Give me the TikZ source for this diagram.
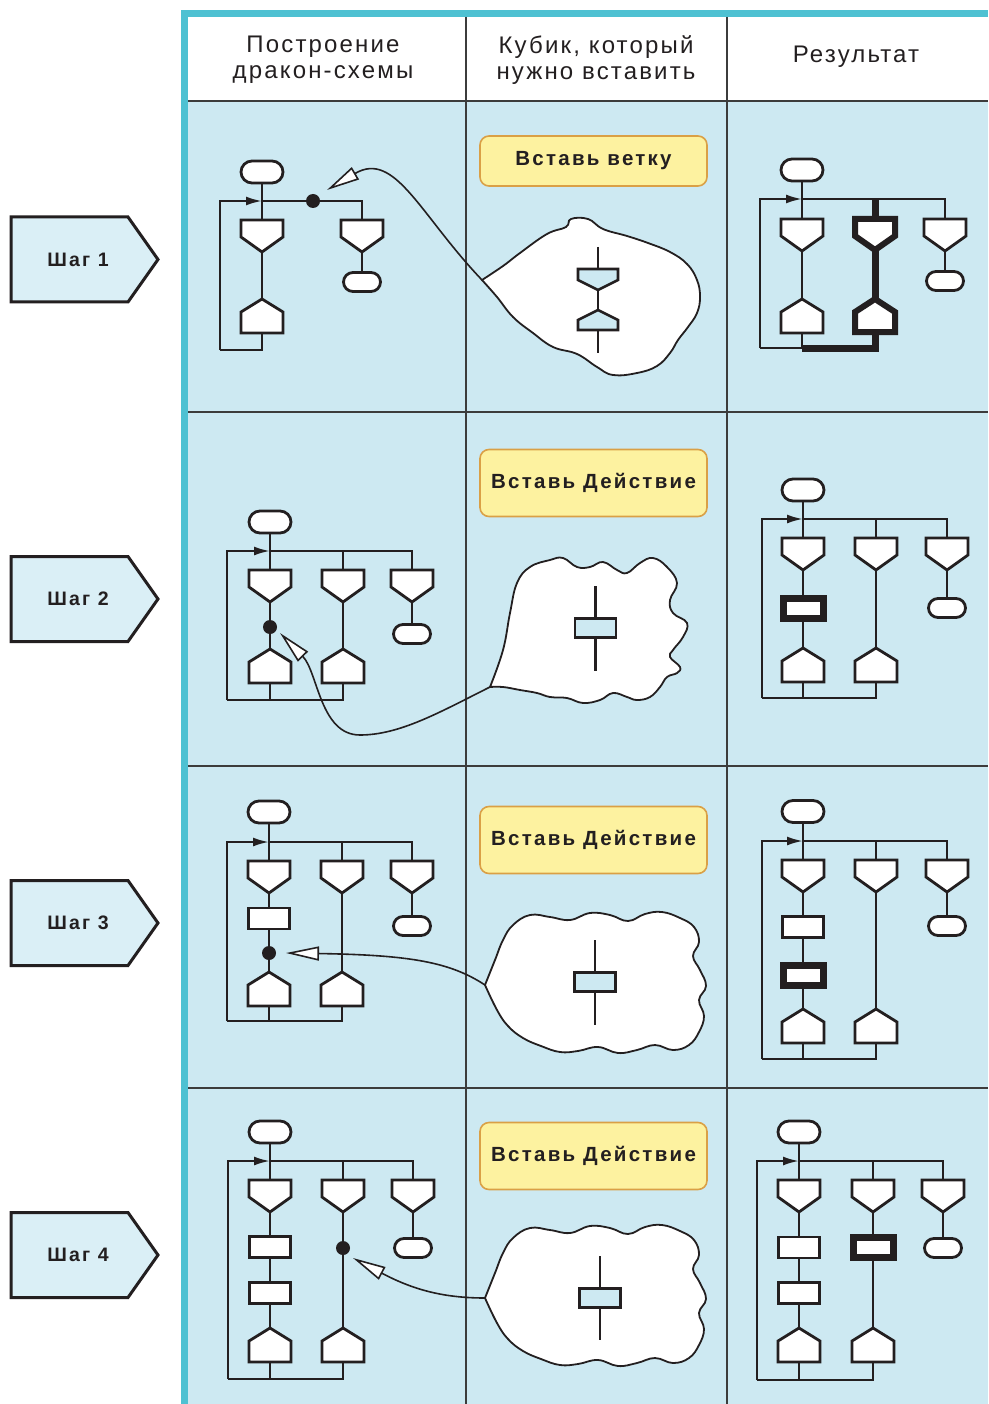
\documentclass[tikz,border=0pt]{standalone}
\usepackage{fontspec}
\setmainfont{Liberation Sans}
\newfontfamily\hdrfont{Liberation Sans}[LetterSpace=9]
\newfontfamily\lblfont{Liberation Sans}[LetterSpace=11]
\usetikzlibrary{arrows.meta,shapes.misc}
\definecolor{panel}{RGB}{205,233,242}
\definecolor{tealb}{RGB}{78,193,210}
\definecolor{stepfill}{RGB}{218,239,246}
\definecolor{yell}{RGB}{253,242,160}
\definecolor{orangeb}{RGB}{218,160,70}
\definecolor{ink}{RGB}{35,31,32}
\definecolor{gridc}{RGB}{60,60,60}
\tikzset{
 shp/.style={draw=ink, fill=white, line width=2.8pt, line join=miter},
 shpi/.style={draw=ink, fill=panel, line width=2.6pt, line join=miter},
 conn/.style={draw=ink, line width=2.2pt},
 connB/.style={draw=ink, line width=7pt},
 looparrow/.style={conn, -{Latex[length=16pt,width=9pt]}},
 term/.style={shp, rounded rectangle, minimum width=42pt, minimum height=22pt, inner sep=0pt},
 termS/.style={term, minimum width=37pt, minimum height=19pt},
 act/.style={shp, rectangle, minimum width=41pt, minimum height=21pt, inner sep=0pt},
 actB/.style={act, line width=7pt, minimum width=40pt, minimum height=20pt},
 acti/.style={shpi, rectangle, minimum width=41pt, minimum height=19pt, inner sep=0pt},
 dot/.style={circle, fill=ink, minimum size=14pt, inner sep=0pt},
 gridline/.style={draw=gridc, line width=1.6pt},
 hdr/.style={font=\hdrfont\fontsize{24}{26}\selectfont, align=center, text=ink, inner sep=0pt},
 lbl/.style={draw=orangeb, fill=yell, line width=1.6pt, rounded corners=9pt, minimum width=227pt, text=ink, font=\lblfont\bfseries\fontsize{20.5}{24}\selectfont},
 stepshp/.style={draw=ink, fill=stepfill, line width=3pt, line join=miter},
 steptxt/.style={text=ink, font=\lblfont\bfseries\fontsize{19.5}{22}\selectfont, inner sep=0pt},
 blob/.style={draw=ink, fill=white, line width=1.8pt},
 tail/.style={draw=ink, line width=1.6pt, -{Triangle[length=33pt,width=14pt,fill=white]}},
 pics/qhead/.style={code={\draw[shp] (-21,0) -- (21,0) -- (21,17) -- (0,32) -- (-21,17) -- cycle; \coordinate (-n) at (0,0); \coordinate (-s) at (0,32);}},
 pics/qheadB/.style={code={\draw[shp, line width=6pt] (-20,0) -- (20,0) -- (20,17) -- (0,31) -- (-20,17) -- cycle; \coordinate (-n) at (0,0); \coordinate (-s) at (0,31);}},
 pics/ehead/.style={code={\draw[shp] (0,0) -- (21,13) -- (21,34) -- (-21,34) -- (-21,13) -- cycle; \coordinate (-n) at (0,0); \coordinate (-s) at (0,34);}},
 pics/eheadB/.style={code={\draw[shp, line width=6pt] (0,0) -- (20,13) -- (20,33) -- (-20,33) -- (-20,13) -- cycle; \coordinate (-n) at (0,0); \coordinate (-s) at (0,33);}},
 pics/qmini/.style={code={\draw[shpi] (-20,0) -- (20,0) -- (20,11) -- (0,21) -- (-20,11) -- cycle; \coordinate (-n) at (0,0); \coordinate (-s) at (0,21);}},
 pics/emini/.style={code={\draw[shpi] (0,0) -- (20,10) -- (20,20) -- (-20,20) -- (-20,10) -- cycle; \coordinate (-n) at (0,0); \coordinate (-s) at (0,20);}},
 pics/stepbox/.style={code={\draw[stepshp] (0,0) -- (117,0) -- (147,42.5) -- (117,85) -- (0,85) -- cycle; \node[steptxt] (-t) at (67,42.5) {#1};}},
}
\begin{document}
\begin{tikzpicture}[x=1pt,y=-1pt]
\useasboundingbox (0,0) rectangle (988,1404);
% backgrounds
\fill[white] (0,0) rectangle (988,1404);
\fill[panel] (187,101) rectangle (988,1404);
\fill[tealb] (181,10) rectangle (988,17);
\fill[tealb] (181,10) rectangle (188,1404);
% grid
\draw[gridline] (188,101) -- (988,101);
\draw[gridline] (188,412) -- (988,412);
\draw[gridline] (188,766) -- (988,766);
\draw[gridline] (188,1088) -- (988,1088);
\draw[gridline] (466,17) -- (466,1404);
\draw[gridline] (727,17) -- (727,1404);
% headers
\node[hdr] (hA) at (323,60) {Построение\\дракон-схемы};
\node[hdr] (hB) at (596,60) {Кубик, который\\нужно вставить};
\node[hdr] (hC) at (856,57) {Результат};
% step boxes
\pic (s1) at (11,217) {stepbox={Шаг 1}};
\pic (s2) at (11,556.5) {stepbox={Шаг 2}};
\pic (s3) at (11,880.5) {stepbox={Шаг 3}};
\pic (s4) at (11,1212.5) {stepbox={Шаг 4}};
% labels
\node[lbl, minimum height=50pt] (k1) at (593.5,161) {Вставь ветку};
\node[lbl, minimum height=67pt] (k2) at (593.5,483) {Вставь Действие};
\node[lbl, minimum height=67pt] (k3) at (593.5,840) {Вставь Действие};
\node[lbl, minimum height=67pt] (k4) at (593.5,1156) {Вставь Действие};

% ===== Step 1 left
\node[term] (t11) at (262,172) {};
\pic (q11) at (262,220) {qhead};
\pic (e11) at (262,299) {ehead};
\pic (q12) at (362,220) {qhead};
\node[termS] (t12) at (362,282) {};
\coordinate (h1) at (262,201);
\coordinate (l1) at (220,350);
\draw[conn] (t11) -- (q11-n);
\draw[conn] (q11-s) -- (e11-n);
\draw[conn] (e11-s) |- (l1);
\draw[looparrow] (l1) |- (h1);
\draw[conn] (h1) -| (q12-n);
\draw[conn] (q12-s) -- (t12);
\node[dot] (d1) at (313,201) {};

% ===== Step 1 right
\node[term] (t21) at (802,170) {};
\pic (q21) at (802,219) {qhead};
\pic (e21) at (802,299) {ehead};
\pic (q22) at (875,219) {qheadB};
\pic (e22) at (875,299) {eheadB};
\pic (q23) at (945,219) {qhead};
\node[termS] (t23) at (945,281) {};
\coordinate (h2) at (802,199);
\coordinate (l2) at (760,348);
\draw[conn] (t21) -- (q21-n);
\draw[conn] (q21-s) -- (e21-n);
\draw[conn] (e21-s) |- (l2);
\draw[looparrow] (l2) |- (h2);
\draw[conn] (h2) -| (q23-n);
\draw[connB] (q22-n |- h2) -- (q22-n);
\draw[connB] (q22-s) -- (e22-n);
\draw[connB, line join=miter] (e22-s) |- (e21-s |- l2);
\draw[conn] (q23-s) -- (t23);

% ===== Step 2 left
\node[term] (t31) at (270,522) {};
\coordinate (h3) at (270,551);
\pic (q31) at (270,570) {qhead};
\node[dot] (d3) at (270,627) {};
\pic (e31) at (270,649) {ehead};
\pic (q32) at (343,570) {qhead};
\pic (e32) at (343,649) {ehead};
\pic (q33) at (412,570) {qhead};
\node[termS] (t33) at (412,634) {};
\coordinate (l3) at (227,700);
\draw[conn] (t31) -- (q31-n);
\draw[conn] (q31-s) -- (d3) -- (e31-n);
\draw[conn] (e31-s) -- (e31-s |- l3);
\draw[conn] (e32-s) |- (l3);
\draw[looparrow] (l3) |- (h3);
\draw[conn] (h3) -| (q32-n);
\draw[conn] (h3) -| (q33-n);
\draw[conn] (q32-s) -- (e32-n);
\draw[conn] (q33-s) -- (t33);

% ===== Step 2 right
\node[term] (t41) at (803,490) {};
\coordinate (h4) at (803,519);
\pic (q41) at (803,538) {qhead};
\node[actB] (a41) at (803,608) {};
\pic (e41) at (803,648) {ehead};
\pic (q42) at (876,538) {qhead};
\pic (e42) at (876,648) {ehead};
\pic (q43) at (947,538) {qhead};
\node[termS] (t43) at (947,608) {};
\coordinate (l4) at (762,698);
\draw[conn] (t41) -- (q41-n);
\draw[conn] (q41-s) -- (a41) -- (e41-n);
\draw[conn] (e41-s) -- (e41-s |- l4);
\draw[conn] (e42-s) |- (l4);
\draw[looparrow] (l4) |- (h4);
\draw[conn] (h4) -| (q42-n);
\draw[conn] (h4) -| (q43-n);
\draw[conn] (q42-s) -- (e42-n);
\draw[conn] (q43-s) -- (t43);

% ===== Step 3 left
\node[term] (t51) at (269,812) {};
\coordinate (h5) at (269,842);
\pic (q51) at (269,861) {qhead};
\node[act] (a51) at (269,918.5) {};
\node[dot] (d5) at (269,953) {};
\pic (e51) at (269,972) {ehead};
\pic (q52) at (342,861) {qhead};
\pic (e52) at (342,972) {ehead};
\pic (q53) at (412,861) {qhead};
\node[termS] (t53) at (412,926) {};
\coordinate (l5) at (227,1021);
\draw[conn] (t51) -- (q51-n);
\draw[conn] (q51-s) -- (a51) -- (d5) -- (e51-n);
\draw[conn] (e51-s) -- (e51-s |- l5);
\draw[conn] (e52-s) |- (l5);
\draw[looparrow] (l5) |- (h5);
\draw[conn] (h5) -| (q52-n);
\draw[conn] (h5) -| (q53-n);
\draw[conn] (q52-s) -- (e52-n);
\draw[conn] (q53-s) -- (t53);

% ===== Step 3 right
\node[term] (t61) at (803,811.5) {};
\coordinate (h6) at (803,841);
\pic (q61) at (803,860) {qhead};
\node[act] (a61) at (803,927) {};
\node[actB] (a62) at (803,975) {};
\pic (e61) at (803,1009) {ehead};
\pic (q62) at (876,860) {qhead};
\pic (e62) at (876,1009) {ehead};
\pic (q63) at (947,860) {qhead};
\node[termS] (t63) at (947,926) {};
\coordinate (l6) at (762,1059);
\draw[conn] (t61) -- (q61-n);
\draw[conn] (q61-s) -- (a61) -- (a62) -- (e61-n);
\draw[conn] (e61-s) -- (e61-s |- l6);
\draw[conn] (e62-s) |- (l6);
\draw[looparrow] (l6) |- (h6);
\draw[conn] (h6) -| (q62-n);
\draw[conn] (h6) -| (q63-n);
\draw[conn] (q62-s) -- (e62-n);
\draw[conn] (q63-s) -- (t63);

% ===== Step 4 left
\node[term] (t71) at (270,1132) {};
\coordinate (h7) at (270,1161);
\pic (q71) at (270,1180) {qhead};
\node[act] (a71) at (270,1247) {};
\node[act] (a72) at (270,1293) {};
\pic (e71) at (270,1328) {ehead};
\pic (q72) at (343,1180) {qhead};
\node[dot] (d7) at (343,1248) {};
\pic (e72) at (343,1328) {ehead};
\pic (q73) at (413,1180) {qhead};
\node[termS] (t73) at (413,1248) {};
\coordinate (l7) at (228,1379);
\draw[conn] (t71) -- (q71-n);
\draw[conn] (q71-s) -- (a71) -- (a72) -- (e71-n);
\draw[conn] (e71-s) -- (e71-s |- l7);
\draw[conn] (e72-s) |- (l7);
\draw[looparrow] (l7) |- (h7);
\draw[conn] (h7) -| (q72-n);
\draw[conn] (h7) -| (q73-n);
\draw[conn] (q72-s) -- (d7) -- (e72-n);
\draw[conn] (q73-s) -- (t73);

% ===== Step 4 right
\node[term] (t81) at (799,1132) {};
\coordinate (h8) at (799,1161);
\pic (q81) at (799,1180) {qhead};
\node[act] (a81) at (799,1247.5) {};
\node[act] (a82) at (799,1293) {};
\pic (e81) at (799,1328) {ehead};
\pic (q82) at (873,1180) {qhead};
\node[actB] (a83) at (873,1247.5) {};
\pic (e82) at (873,1328) {ehead};
\pic (q83) at (943,1180) {qhead};
\node[termS] (t83) at (943,1248) {};
\coordinate (l8) at (757,1380);
\draw[conn] (t81) -- (q81-n);
\draw[conn] (q81-s) -- (a81) -- (a82) -- (e81-n);
\draw[conn] (e81-s) -- (e81-s |- l8);
\draw[conn] (e82-s) |- (l8);
\draw[looparrow] (l8) |- (h8);
\draw[conn] (h8) -| (q82-n);
\draw[conn] (h8) -| (q83-n);
\draw[conn] (q82-s) -- (a83) -- (e82-n);
\draw[conn] (q83-s) -- (t83);

% ===== Blobs
\coordinate (b1) at (482,280);
\draw[blob] plot[smooth, tension=0.7] coordinates {(482,280) (503,266) (520,253) (547,234) (566,227) (571,219) (588,219) (603,229) (627,236) (648,243) (670,252) (687,264) (697,280) (700,297) (697,313) (688,327) (678,340) (670,353) (657,366) (637,373) (613,375) (597,367) (577,354) (553,347) (533,333) (513,317) (497,297) (482,280)} -- cycle;
\coordinate (m1a) at (598,247);
\coordinate (m1b) at (598,353);
\pic (m1q) at (598,269) {qmini};
\pic (m1e) at (598,310) {emini};
\draw[conn] (m1a) -- (m1q-n);
\draw[conn] (m1q-s) -- (m1e-n);
\draw[conn] (m1e-s) -- (m1b);

\coordinate (b2) at (490,687);
\draw[blob] plot[smooth, tension=0.7] coordinates {(490,687) (503,650) (510,613) (517,583) (530,567) (550,560) (563,558) (577,567) (590,567) (603,562) (617,570) (627,573) (640,563) (653,558) (667,567) (677,583) (670,600) (673,613) (687,623) (683,637) (673,650) (670,657) (680,667) (677,673) (667,677) (660,687) (650,697) (637,700) (627,697) (613,693) (600,700) (583,703) (567,698) (550,697) (537,693) (520,690) (503,687) (490,687)} -- cycle;
\node[acti] (m2) at (595.5,628) {};
\coordinate (m2a) at (595.5,586);
\coordinate (m2b) at (595.5,671);
\draw[conn] (m2a) -- (m2);
\draw[conn] (m2) -- (m2b);

\coordinate (b3) at (485,985);
\draw[blob] plot[smooth, tension=0.7] coordinates {(485,985) (495,960) (503,940) (513,925) (530,915) (550,917) (570,920) (590,913) (610,915) (628,921) (645,914) (662,912) (680,918) (694,927) (699,942) (693,956) (700,970) (706,986) (699,1000) (704,1016) (699,1032) (689,1045) (673,1050) (655,1045) (637,1050) (618,1053) (598,1047) (578,1051) (560,1052) (541,1046) (523,1038) (508,1026) (497,1010) (485,985)} -- cycle;
\node[acti] (m3) at (595,982) {};
\coordinate (m3a) at (595,940);
\coordinate (m3b) at (595,1025);
\draw[conn] (m3a) -- (m3);
\draw[conn] (m3) -- (m3b);

\coordinate (b4) at (485,1298);
\begin{scope}[yshift=-313pt]
\draw[blob] plot[smooth, tension=0.7] coordinates {(485,985) (495,960) (503,940) (513,925) (530,915) (550,917) (570,920) (590,913) (610,915) (628,921) (645,914) (662,912) (680,918) (694,927) (699,942) (693,956) (700,970) (706,986) (699,1000) (704,1016) (699,1032) (689,1045) (673,1050) (655,1045) (637,1050) (618,1053) (598,1047) (578,1051) (560,1052) (541,1046) (523,1038) (508,1026) (497,1010) (485,985)} -- cycle;
\end{scope}
\node[acti] (m4) at (600,1298) {};
\coordinate (m4a) at (600,1256);
\coordinate (m4b) at (600,1340);
\draw[conn] (m4a) -- (m4);
\draw[conn] (m4) -- (m4b);

% ===== tails with arrows
\coordinate (p1) at (327,190);
\coordinate (p2) at (280,633);
\coordinate (p3) at (286,953);
\coordinate (p4) at (353,1258);
\draw[tail] (b1) .. controls (420,215) and (395,150) .. (p1);
\draw[tail] (b2) .. controls (440,712) and (400,735) .. (360,735) .. controls (320,735) and (318,672) .. (p2);
\draw[tail] (b3) .. controls (450,962) and (410,955) .. (p3);
\draw[tail] (b4) .. controls (440,1298) and (410,1288) .. (p4);
\end{tikzpicture}
\end{document}
